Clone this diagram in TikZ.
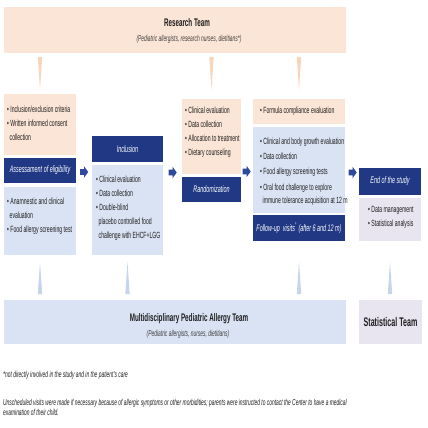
\documentclass[tikz,border=0pt]{standalone}
\usepackage{fontspec}
\setmainfont{Liberation Sans}[FakeStretch=0.57]
\usetikzlibrary{calc}
\definecolor{peach}{HTML}{FBE5D6}
\definecolor{peachw}{HTML}{F8D6BE}
\definecolor{lblue}{HTML}{DAE3F3}
\definecolor{lbluew}{HTML}{C6D4EC}
\definecolor{dblue}{HTML}{213985}
\definecolor{lav}{HTML}{E8E5F1}
\definecolor{arrblue}{HTML}{2D4A9C}
\definecolor{txt}{HTML}{1E1E1E}
\tikzset{
  boxn/.style={draw=none, anchor=north west, inner sep=0pt, outer sep=0pt},
  listn/.style={anchor=north west, inner sep=0pt, align=flush left, text=txt,
    font=\fontsize{9}{14}\selectfont},
  headn/.style={text=white, font=\itshape\fontsize{9.5}{11}\selectfont, inner sep=0pt},
  titlen/.style={text=txt, font=\bfseries\fontsize{11}{13}\selectfont, inner sep=0pt},
  subn/.style={text=txt!85, font=\itshape\fontsize{8.6}{10}\selectfont, inner sep=0pt},
  wedgep/.style={fill=peachw},
  wedgeb/.style={fill=lbluew},
  barrow/.pic={\fill[arrblue] (-4,-2.8) -- (0,-2.8) -- (0,-5.8) -- (4.2,0) -- (0,5.8) -- (0,2.8) -- (-4,2.8) -- cycle;},
  footn/.style={anchor=north west, inner sep=0pt, align=flush left, text=txt,
    font=\itshape\fontsize{8.6}{9.6}\selectfont}
}
\newcommand\bx[6]{\node[boxn, fill=#2, minimum width=#5pt, minimum height=#6pt] (#1) at (#3,#4) {};}
\newcommand\st{\rule{0pt}{7pt}}
\begin{document}
\begin{tikzpicture}[x=1pt,y=-1pt]
\useasboundingbox (0,0) rectangle (428,428);
% boxes
\bx{rt}{peach}{4}{7}{342}{46}
\bx{b1o}{peach}{4}{94}{72}{61}
\bx{b1d}{dblue}{4}{158}{72}{25}
\bx{b1b}{lblue}{4}{187}{72}{68}
\bx{b2d}{dblue}{92}{136}{71}{26}
\bx{b2b}{lblue}{92}{165}{71}{90}
\bx{b3o}{peach}{182}{99}{59}{75}
\bx{b3d}{dblue}{182}{177}{59}{25}
\bx{b4o}{peach}{253}{99}{92}{25}
\bx{b4b}{lblue}{253}{127}{92}{86}
\bx{b4d}{dblue}{253}{215}{92}{26}
\bx{b5d}{dblue}{359}{168}{62}{27}
\bx{b5l}{lav}{359}{198}{62}{43}
\bx{mpa}{lblue}{4}{300}{342}{44}
\bx{stt}{lav}{359}{300}{63}{44}
% wedges from research team
\foreach \b in {b1o,b3o,b4o}{
  \fill[wedgep] ($(rt.south -| \b.north)+(-2.2,4)$) -- ($(rt.south -| \b.north)+(2.2,4)$) -- ($(rt.south -| \b.north)+(0,37)$) -- cycle;
}
% wedges to bottom teams
\foreach \b in {b1b,b2b,b4d}{
  \fill[wedgeb] ($(mpa.north -| \b.south)+(-2.2,-6)$) -- ($(mpa.north -| \b.south)+(2.2,-6)$) -- ($(mpa.north -| \b.south)+(0,-38)$) -- cycle;
}
\fill[wedgeb] ($(stt.north -| b5l.south)+(-2.2,-6)$) -- ($(stt.north -| b5l.south)+(2.2,-6)$) -- ($(stt.north -| b5l.south)+(0,-38)$) -- cycle;
% arrows
\pic at (84,172) {barrow};
\pic at (172.5,172.5) {barrow};
\pic at (246.5,171.5) {barrow};
\pic at (352.5,172.5) {barrow};
% titles
\node[titlen] (rtt) at ($(rt.north)+(12,16)$) {Research Team};
\node[subn] (rts) at ($(rt.north)+(14,32)$) {(Pediatric allergists, research nurses, dietitians*)};
\node[titlen] (mpat) at ($(mpa.north)+(14,19)$) {Multidisciplinary Pediatric Allergy Team};
\node[subn] (mpas) at ($(mpa.north)+(13,34)$) {(Pediatric allergists, nurses, dietitians)};
\node[titlen, font=\bfseries\fontsize{12.5}{14}\selectfont] (stl) at (stt.center) {Statistical Team};
% headers
\node[headn] at (b1d.center) {Assessament of eligibility};
\node[headn] at (b2d.center) {Inclusion};
\node[headn] at (b3d.center) {Randomization};
\node[headn] at (b4d.center) {Follow-up\ \ visits\textsuperscript{°} (after 6 and 12 m)};
\node[headn] at (b5d.center) {End of the study};
% lists
\node[listn, text width=68pt] (l1o) at ($(b1o.north west)+(3,11)$) {\st• Inclusion/exclusion criteria\\• Written informed consent\\\hspace*{2.5pt}collection};
\node[listn, text width=68pt] (l1b) at ($(b1b.north west)+(3,10)$) {\st• Anamnestic and clinical\\\hspace*{2.5pt}evaluation\\• Food allergy screening test};
\node[listn, text width=67pt] (l2b) at ($(b2b.north west)+(4,10)$) {\st• Clinical evaluation\\• Data collection\\• Double-blind\\\hspace*{2.5pt}placebo controlled food\\\hspace*{2.5pt}challenge with EHCF+LGG};
\node[listn, text width=57pt] (l3o) at ($(b3o.north west)+(3,7)$) {\st• Clinical evaluation\\• Data collection\\• Allocation to treatment\\• Dietary counseling};
\node[listn, text width=88pt] (l4o) at ($(b4o.north west)+(7,7)$) {\st• Formula compliance evaluation};
\node[listn, text width=88pt, font=\fontsize{9}{15.3}\selectfont] (l4b) at ($(b4b.north west)+(7,10)$) {\st• Clinical and body growth evaluation\\• Data collection\\• Food allergy screening tests\\• Oral food challenge to explore\\[-2pt]\hspace*{2.5pt}immune tolerance acquisition at 12 m};
\node[listn, text width=58pt] (l5l) at ($(b5l.north west)+(9,7)$) {\st• Data management\\• Statistical analysis};
% footnotes
\node[footn] (f1) at (3,371) {*not directly involved in the study and in the patient's care};
\node[footn] (f2) at (3,399) {Unscheduled visits were made if necessary because of allergic symptoms or other morbidities; parents were instructed to contact the Center to have a medical\\examination of their child.};
\end{tikzpicture}
\end{document}
